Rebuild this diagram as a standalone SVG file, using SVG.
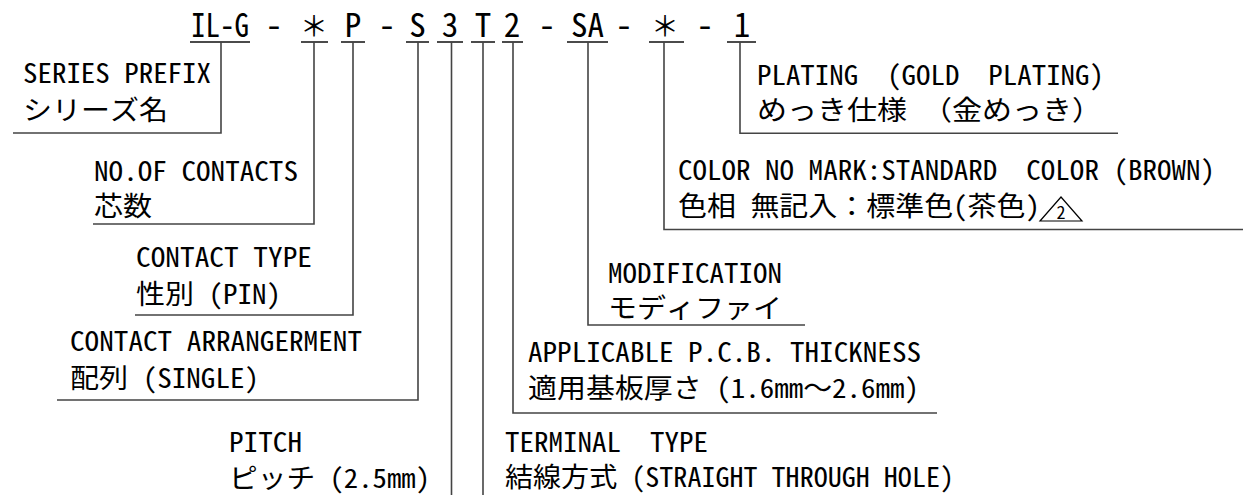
<svg xmlns="http://www.w3.org/2000/svg" width="1255" height="495" viewBox="0 0 1255 495" xml:space="preserve">
<style>
text{font-family:"Noto Sans Mono CJK JP","Noto Sans CJK JP","DejaVu Sans Mono",monospace;fill:#000;white-space:pre}
.h{font-size:33px;text-anchor:middle}
.a{font-size:28px;text-anchor:middle}
.l{font-size:27px}
.ul{stroke:#111;stroke-width:1.6;fill:none}
.c{stroke:#444;stroke-width:1.6;fill:none}
</style>
<rect width="1255" height="495" fill="#fff"/>
<g id="code">
<text class="h" x="220" y="37" textLength="58" lengthAdjust="spacingAndGlyphs">IL-G</text>
<text class="h" x="274" y="37">-</text>
<text class="a" x="314" y="37">＊</text>
<text class="h" x="353" y="37">P</text>
<text class="h" x="387" y="37">-</text>
<text class="h" x="417.5" y="37">S</text>
<text class="h" x="450" y="37">3</text>
<text class="h" x="483" y="37">T</text>
<text class="h" x="512" y="37">2</text>
<text class="h" x="547" y="37">-</text>
<text class="h" x="587.5" y="37">SA</text>
<text class="h" x="624" y="37">-</text>
<text class="a" x="665" y="37">＊</text>
<text class="h" x="705" y="37">-</text>
<text class="h" x="742" y="37">1</text>
<path class="ul" d="M190 42H250M301 42H328M341 42H365M406 42H429M437 42H463M471 42H495M502 42H523M567 42H608M649 42H684M727 42H756"/>
</g>
<g id="connectors" class="c">
<path d="M221 42V133H13"/>
<path d="M314 42V224H93"/>
<path d="M353 42V315H135"/>
<path d="M418 42V400H57"/>
<path d="M451.5 42V495"/>
<path d="M483 42V495"/>
<path d="M513 42V413H937"/>
<path d="M588 42V325H805"/>
<path d="M664 42V229.5H1243"/>
<path d="M740 42V133.3H1118"/>
</g>
<g id="series">
<text class="l" x="23" y="83" textLength="188" lengthAdjust="spacingAndGlyphs">SERIES PREFIX</text>
<text class="l" x="23" y="119.5" textLength="145" lengthAdjust="spacingAndGlyphs">シリーズ名</text>
</g>
<g id="contacts">
<text class="l" x="94" y="180.5" textLength="204" lengthAdjust="spacingAndGlyphs">NO.OF CONTACTS</text>
<text class="l" x="94" y="215.5" textLength="58" lengthAdjust="spacingAndGlyphs">芯数</text>
</g>
<g id="contact-type">
<text class="l" x="136" y="267" textLength="176" lengthAdjust="spacingAndGlyphs">CONTACT TYPE</text>
<text class="l" x="136" y="304" textLength="145" lengthAdjust="spacingAndGlyphs">性別 (PIN)</text>
</g>
<g id="arrangement">
<text class="l" x="70" y="350.5" textLength="292" lengthAdjust="spacingAndGlyphs">CONTACT ARRANGERMENT</text>
<text class="l" x="70" y="388" textLength="189" lengthAdjust="spacingAndGlyphs">配列 (SINGLE)</text>
</g>
<g id="pitch">
<text class="l" x="229" y="451.5" textLength="73" lengthAdjust="spacingAndGlyphs">PITCH</text>
<text class="l" x="229" y="488" textLength="201" lengthAdjust="spacingAndGlyphs">ピッチ (2.5mm)</text>
</g>
<g id="terminal">
<text class="l" x="505" y="452" textLength="203" lengthAdjust="spacingAndGlyphs">TERMINAL  TYPE</text>
<text class="l" x="505" y="487" textLength="449" lengthAdjust="spacingAndGlyphs">結線方式 (STRAIGHT THROUGH HOLE)</text>
</g>
<g id="thickness">
<text class="l" x="528" y="361.5" textLength="393" lengthAdjust="spacingAndGlyphs">APPLICABLE P.C.B. THICKNESS</text>
<text class="l" x="528" y="398" textLength="391" lengthAdjust="spacingAndGlyphs">適用基板厚さ (1.6mm～2.6mm)</text>
</g>
<g id="modification">
<text class="l" x="608" y="283" textLength="174" lengthAdjust="spacingAndGlyphs">MODIFICATION</text>
<text class="l" x="608" y="318" textLength="174" lengthAdjust="spacingAndGlyphs">モディファイ</text>
</g>
<g id="color">
<text class="l" x="678" y="180" textLength="537" lengthAdjust="spacingAndGlyphs">COLOR NO MARK:STANDARD  COLOR (BROWN)</text>
<text class="l" x="678" y="215.5" textLength="362" lengthAdjust="spacingAndGlyphs">色相 無記入：標準色(茶色)</text>
<polygon points="1040,221 1061,197 1082,221" fill="none" stroke="#000" stroke-width="1.2"/>
<text x="1061" y="219" font-size="18" text-anchor="middle">2</text>
</g>
<g id="plating">
<text class="l" x="757" y="85" textLength="347" lengthAdjust="spacingAndGlyphs">PLATING  (GOLD  PLATING)</text>
<text class="l" x="757" y="120" textLength="345" lengthAdjust="spacingAndGlyphs">めっき仕様　（金めっき）</text>
</g>
</svg>
